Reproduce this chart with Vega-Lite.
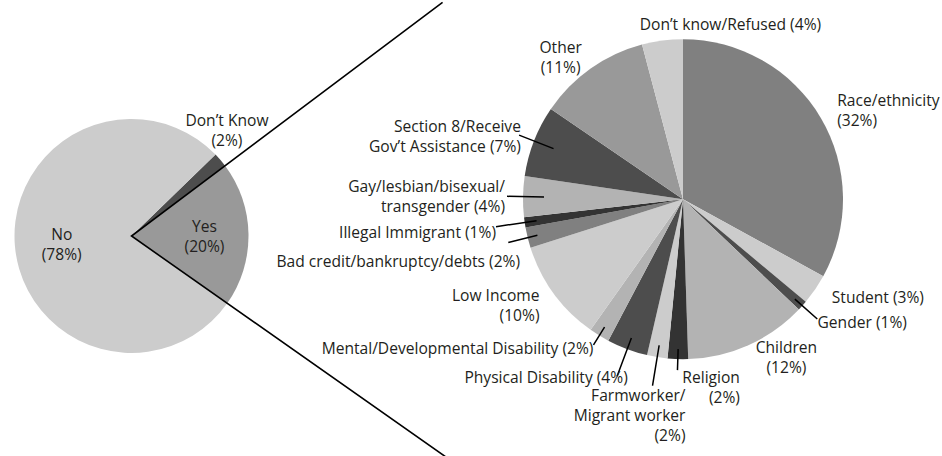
{
  "$schema": "https://vega.github.io/schema/vega-lite/v6.json",
  "width": 942,
  "height": 456,
  "autosize": {"type": "none"},
  "padding": 0,
  "background": "white",
  "config": {"view": {"stroke": null}},
  "datasets": {
    "overall": [
      {"answer": "Don’t Know", "pct": 2, "k": 1, "label": "Don’t Know\n(2%)"},
      {"answer": "Yes", "pct": 20, "k": 2, "label": "Yes\n(20%)"},
      {"answer": "No", "pct": 78, "k": 3, "label": "No\n(78%)"}
    ],
    "reasons": [
      {"reason": "Race/ethnicity", "pct": 32, "k": 1, "label": "Race/ethnicity\n(32%)"},
      {"reason": "Student", "pct": 3, "k": 2, "label": "Student (3%)"},
      {"reason": "Gender", "pct": 1, "k": 3, "label": "Gender (1%)"},
      {"reason": "Children", "pct": 12, "k": 4, "label": "Children\n(12%)"},
      {"reason": "Religion", "pct": 2, "k": 5, "label": "Religion\n(2%)"},
      {"reason": "Farmworker/Migrant worker", "pct": 2, "k": 6, "label": "Farmworker/\nMigrant worker\n(2%)"},
      {"reason": "Physical Disability", "pct": 4, "k": 7, "label": "Physical Disability (4%)"},
      {"reason": "Mental/Developmental Disability", "pct": 2, "k": 8, "label": "Mental/Developmental Disability (2%)"},
      {"reason": "Low Income", "pct": 10, "k": 9, "label": "Low Income\n(10%)"},
      {"reason": "Bad credit/bankruptcy/debts", "pct": 2, "k": 10, "label": "Bad credit/bankruptcy/debts (2%)"},
      {"reason": "Illegal Immigrant", "pct": 1, "k": 11, "label": "Illegal Immigrant (1%)"},
      {"reason": "Gay/lesbian/bisexual/transgender", "pct": 4, "k": 12, "label": "Gay/lesbian/bisexual/\ntransgender (4%)"},
      {"reason": "Section 8/Receive Gov’t Assistance", "pct": 7, "k": 13, "label": "Section 8/Receive\nGov’t Assistance (7%)"},
      {"reason": "Other", "pct": 11, "k": 14, "label": "Other\n(11%)"},
      {"reason": "Don’t know/Refused", "pct": 4, "k": 15, "label": "Don’t know/Refused (4%)"}
    ]
  },
  "layer": [
    {
      "data": {"name": "overall"},
      "encoding": {
        "x": {"datum": "All respondents", "type": "nominal", "axis": null, "scale": {"type": "point", "domain": ["All respondents", "Reasons"], "range": [131.5, 683], "padding": 0}},
        "y": {"datum": "All respondents", "type": "nominal", "axis": null, "scale": {"type": "point", "domain": ["All respondents", "Reasons"], "range": [236, 199.2], "padding": 0}},
        "theta": {"field": "pct", "type": "quantitative", "stack": true, "scale": {"range": [0.8011, 7.0843]}},
        "order": {"field": "k", "type": "quantitative"},
        "detail": {"field": "answer", "type": "nominal"}
      },
      "layer": [
        {
          "mark": {"type": "arc", "outerRadius": 117},
          "encoding": {
            "color": {"field": "answer", "type": "nominal", "legend": null,
              "scale": {"domain": ["Don’t Know", "Yes", "No"], "range": ["#4d4d4d", "#999999", "#cccccc"]}}
          }
        },
        {
          "mark": {"type": "arc", "outerRadius": 390, "fillOpacity": 0, "stroke": "#000000", "strokeWidth": 1.6, "strokeDash": [0, 491, 780, 3000]},
          "encoding": {
            "strokeOpacity": {"condition": {"test": "datum.answer === 'Yes'", "value": 1}, "value": 0}
          }
        },
        {
          "mark": {"type": "text", "radius": 69, "dx": -1, "dy": -6, "align": "center", "baseline": "middle", "font": "Open Sans", "fontSize": 15.6, "lineHeight": 20, "lineBreak": "\n", "color": "#231f20"},
          "encoding": {"text": {"condition": {"test": "datum.answer === 'No'", "field": "label", "type": "nominal"}, "value": ""}}
        },
        {
          "mark": {"type": "text", "radius": 73, "dx": 0, "dy": -8, "align": "center", "baseline": "middle", "font": "Open Sans", "fontSize": 15.6, "lineHeight": 20, "lineBreak": "\n", "color": "#231f20"},
          "encoding": {"text": {"condition": {"test": "datum.answer === 'Yes'", "field": "label", "type": "nominal"}, "value": ""}}
        },
        {
          "mark": {"type": "text", "radius": 140, "dx": -11, "dy": -24, "align": "center", "baseline": "middle", "font": "Open Sans", "fontSize": 15.6, "lineHeight": 20, "lineBreak": "\n", "color": "#231f20"},
          "encoding": {"text": {"condition": {"test": "datum.answer === 'Don’t Know'", "field": "label", "type": "nominal"}, "value": ""}}
        }
      ]
    },
    {
      "data": {"name": "reasons"},
      "encoding": {
        "x": {"datum": "Reasons", "type": "nominal", "axis": null, "scale": {"type": "point", "domain": ["All respondents", "Reasons"], "range": [131.5, 683], "padding": 0}},
        "y": {"datum": "Reasons", "type": "nominal", "axis": null, "scale": {"type": "point", "domain": ["All respondents", "Reasons"], "range": [236, 199.2], "padding": 0}},
        "theta": {"field": "pct", "type": "quantitative", "stack": true},
        "order": {"field": "k", "type": "quantitative"},
        "detail": {"field": "reason", "type": "nominal"}
      },
      "layer": [
        {
          "mark": {"type": "arc", "outerRadius": 160},
          "encoding": {
            "color": {"field": "reason", "type": "nominal", "legend": null,
              "scale": {
                "domain": ["Race/ethnicity", "Student", "Gender", "Children", "Religion", "Farmworker/Migrant worker", "Physical Disability", "Mental/Developmental Disability", "Low Income", "Bad credit/bankruptcy/debts", "Illegal Immigrant", "Gay/lesbian/bisexual/transgender", "Section 8/Receive Gov’t Assistance", "Other", "Don’t know/Refused"],
                "range": ["#808080", "#cccccc", "#4d4d4d", "#b3b3b3", "#333333", "#cccccc", "#4d4d4d", "#b3b3b3", "#cccccc", "#808080", "#333333", "#b3b3b3", "#4d4d4d", "#999999", "#cccccc"]
              }}
          }
        },
        {
          "mark": {"type": "arc", "padAngle": 3.1416, "innerRadius": 150, "outerRadius": 171, "fillOpacity": 0, "stroke": "#000000", "strokeWidth": 1.5},
          "encoding": {"strokeOpacity": {"condition": {"test": "indexof(['Religion', 'Mental/Developmental Disability'], datum.reason) >= 0", "value": 1}, "value": 0}}
        },
        {
          "mark": {"type": "arc", "padAngle": 3.1416, "innerRadius": 148, "outerRadius": 189, "fillOpacity": 0, "stroke": "#000000", "strokeWidth": 1.5},
          "encoding": {"strokeOpacity": {"condition": {"test": "indexof(['Farmworker/Migrant worker', 'Physical Disability', 'Illegal Immigrant'], datum.reason) >= 0", "value": 1}, "value": 0}}
        },
        {
          "mark": {"type": "arc", "padAngle": 3.1416, "innerRadius": 150, "outerRadius": 180, "fillOpacity": 0, "stroke": "#000000", "strokeWidth": 1.5},
          "encoding": {"strokeOpacity": {"condition": {"test": "indexof(['Gender', 'Bad credit/bankruptcy/debts'], datum.reason) >= 0", "value": 1}, "value": 0}}
        },
        {
          "mark": {"type": "arc", "padAngle": 3.1416, "innerRadius": 139, "outerRadius": 176, "fillOpacity": 0, "stroke": "#000000", "strokeWidth": 1.5},
          "encoding": {"strokeOpacity": {"condition": {"test": "indexof(['Gay/lesbian/bisexual/transgender', 'Section 8/Receive Gov’t Assistance'], datum.reason) >= 0", "value": 1}, "value": 0}}
        },
        {
          "mark": {"type": "text", "radius": 178, "dx": 1, "dy": -8, "align": "left", "baseline": "middle", "font": "Open Sans", "fontSize": 15.6, "lineHeight": 20, "lineBreak": "\n", "color": "#231f20"},
          "encoding": {"text": {"condition": {"test": "datum.reason === 'Race/ethnicity'", "field": "label", "type": "nominal"}, "value": ""}}
        },
        {
          "mark": {"type": "text", "radius": 179, "dx": 1, "dy": -2, "align": "left", "baseline": "middle", "font": "Open Sans", "fontSize": 15.6, "lineHeight": 20, "lineBreak": "\n", "color": "#231f20"},
          "encoding": {"text": {"condition": {"test": "datum.reason === 'Student'", "field": "label", "type": "nominal"}, "value": ""}}
        },
        {
          "mark": {"type": "text", "radius": 183, "dx": -2, "dy": 2, "align": "left", "baseline": "middle", "font": "Open Sans", "fontSize": 15.6, "lineHeight": 20, "lineBreak": "\n", "color": "#231f20"},
          "encoding": {"text": {"condition": {"test": "datum.reason === 'Gender'", "field": "label", "type": "nominal"}, "value": ""}}
        },
        {
          "mark": {"type": "text", "radius": 187, "dx": 27, "dy": -22, "align": "center", "baseline": "middle", "font": "Open Sans", "fontSize": 15.6, "lineHeight": 20, "lineBreak": "\n", "color": "#231f20"},
          "encoding": {"text": {"condition": {"test": "datum.reason === 'Children'", "field": "label", "type": "nominal"}, "value": ""}}
        },
        {
          "mark": {"type": "text", "radius": 187, "dx": 63, "dy": -8, "align": "right", "baseline": "middle", "font": "Open Sans", "fontSize": 15.6, "lineHeight": 20, "lineBreak": "\n", "color": "#231f20"},
          "encoding": {"text": {"condition": {"test": "datum.reason === 'Religion'", "field": "label", "type": "nominal"}, "value": ""}}
        },
        {
          "mark": {"type": "text", "radius": 214, "dx": 37, "dy": -14, "align": "right", "baseline": "middle", "font": "Open Sans", "fontSize": 15.6, "lineHeight": 20, "lineBreak": "\n", "color": "#231f20"},
          "encoding": {"text": {"condition": {"test": "datum.reason === 'Farmworker/Migrant worker'", "field": "label", "type": "nominal"}, "value": ""}}
        },
        {
          "mark": {"type": "text", "radius": 187, "dx": 10, "dy": 4, "align": "right", "baseline": "middle", "font": "Open Sans", "fontSize": 15.6, "lineHeight": 20, "lineBreak": "\n", "color": "#231f20"},
          "encoding": {"text": {"condition": {"test": "datum.reason === 'Physical Disability'", "field": "label", "type": "nominal"}, "value": ""}}
        },
        {
          "mark": {"type": "text", "radius": 175, "dx": 2, "dy": 1, "align": "right", "baseline": "middle", "font": "Open Sans", "fontSize": 15.6, "lineHeight": 20, "lineBreak": "\n", "color": "#231f20"},
          "encoding": {"text": {"condition": {"test": "datum.reason === 'Mental/Developmental Disability'", "field": "label", "type": "nominal"}, "value": ""}}
        },
        {
          "mark": {"type": "text", "radius": 179, "dx": 1, "dy": -9, "align": "right", "baseline": "middle", "font": "Open Sans", "fontSize": 15.6, "lineHeight": 20, "lineBreak": "\n", "color": "#231f20"},
          "encoding": {"text": {"condition": {"test": "datum.reason === 'Low Income'", "field": "label", "type": "nominal"}, "value": ""}}
        },
        {
          "mark": {"type": "text", "radius": 173, "dx": 5, "dy": 21, "align": "right", "baseline": "middle", "font": "Open Sans", "fontSize": 15.6, "lineHeight": 20, "lineBreak": "\n", "color": "#231f20"},
          "encoding": {"text": {"condition": {"test": "datum.reason === 'Bad credit/bankruptcy/debts'", "field": "label", "type": "nominal"}, "value": ""}}
        },
        {
          "mark": {"type": "text", "radius": 190, "dx": 1, "dy": 6, "align": "right", "baseline": "middle", "font": "Open Sans", "fontSize": 15.6, "lineHeight": 20, "lineBreak": "\n", "color": "#231f20"},
          "encoding": {"text": {"condition": {"test": "datum.reason === 'Illegal Immigrant'", "field": "label", "type": "nominal"}, "value": ""}}
        },
        {
          "mark": {"type": "text", "radius": 178, "dx": 0, "dy": -9, "align": "right", "baseline": "middle", "font": "Open Sans", "fontSize": 15.6, "lineHeight": 20, "lineBreak": "\n", "color": "#231f20"},
          "encoding": {"text": {"condition": {"test": "datum.reason === 'Gay/lesbian/bisexual/transgender'", "field": "label", "type": "nominal"}, "value": ""}}
        },
        {
          "mark": {"type": "text", "radius": 174, "dx": 0, "dy": -9, "align": "right", "baseline": "middle", "font": "Open Sans", "fontSize": 15.6, "lineHeight": 20, "lineBreak": "\n", "color": "#231f20"},
          "encoding": {"text": {"condition": {"test": "datum.reason === 'Section 8/Receive Gov’t Assistance'", "field": "label", "type": "nominal"}, "value": ""}}
        },
        {
          "mark": {"type": "text", "radius": 186, "dx": -15, "dy": 1, "align": "center", "baseline": "middle", "font": "Open Sans", "fontSize": 15.6, "lineHeight": 20, "lineBreak": "\n", "color": "#231f20"},
          "encoding": {"text": {"condition": {"test": "datum.reason === 'Other'", "field": "label", "type": "nominal"}, "value": ""}}
        },
        {
          "mark": {"type": "text", "radius": 167, "dx": 69, "dy": -9, "align": "center", "baseline": "middle", "font": "Open Sans", "fontSize": 15.6, "lineHeight": 20, "lineBreak": "\n", "color": "#231f20"},
          "encoding": {"text": {"condition": {"test": "datum.reason === 'Don’t know/Refused'", "field": "label", "type": "nominal"}, "value": ""}}
        }
      ]
    }
  ],
  "resolve": {"scale": {"theta": "independent", "color": "independent"}}
}
